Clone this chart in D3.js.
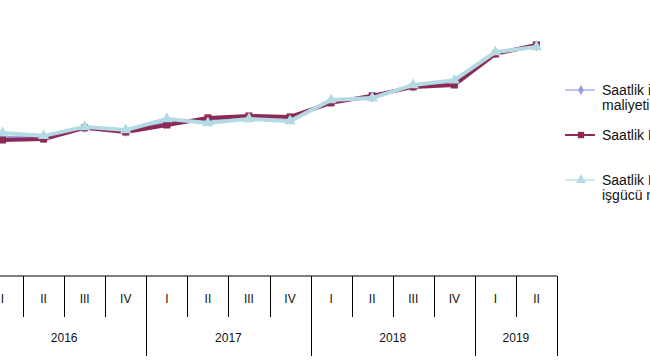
<!DOCTYPE html>
<meta charset="utf-8">
<body style="margin:0;background:#fff">
<script src="https://d3js.org/d3.v7.min.js"></script>
<div id="my_dataviz"></div>
<script>

// quarters and years on the x axis
var quarters = ["I","II","III","IV","I","II","III","IV","I","II","III","IV","I","II"];
var years = ["2016","2017","2018","2019"];
var yearSize = [4, 4, 4, 2];

// index values per quarter
var isgucu   = [143.3,143.2,146.4,145.2,147.9,148.9,149.6,149.2,154.6,156.0,159.3,160.3,169.7,171.9];
var kazanc   = [142.5,142.8,146.3,145.0,147.2,149.4,150.0,149.7,154.1,156.3,159.1,159.7,169.4,172.2];
var kazancDisi = [144.7,143.8,146.6,145.6,149.1,147.8,149.1,148.4,155.0,155.6,159.7,161.2,170.0,171.6];

var seriesNames = [["Saatlik işgücü", "maliyeti"], ["Saatlik Kazanç"], ["Saatlik Kazanç dışı", "işgücü maliyeti"]];

var width = 650, height = 360;
var axisY = 276;

var svg = d3.select("#my_dataviz")
  .append("svg")
    .attr("width", width)
    .attr("height", height)
    .style("font-family", "Arial, 'Liberation Sans', sans-serif");

var keys = quarters.map(function(q, i) { return i; });

var x = d3.scaleBand()
  .domain(keys)
  .range([-18, 557]);

var y = d3.scaleLinear()
  .domain([100, 180])
  .range([axisY, 20]);

// category axis: horizontal line, quarter separators, year separators
svg.append("line")
  .attr("x1", x.range()[0]).attr("x2", x.range()[1])
  .attr("y1", axisY).attr("y2", axisY)
  .attr("stroke", "#000").attr("stroke-width", 1);

var yearStart = [];
var acc = 0;
yearSize.forEach(function(n) { yearStart.push(acc); acc += n; });

keys.forEach(function(k) {
  var isYear = yearStart.indexOf(k + 1) >= 0 || k == keys.length - 1;
  svg.append("line")
    .attr("x1", Math.round(x(k) + x.bandwidth()) + 0.5)
    .attr("x2", Math.round(x(k) + x.bandwidth()) + 0.5)
    .attr("y1", axisY)
    .attr("y2", isYear ? 356 : 317)
    .attr("stroke", "#000").attr("stroke-width", 1);
});

svg.selectAll(".qlab")
  .data(quarters)
  .enter()
  .append("text")
    .attr("x", function(d, i) { return x(i) + x.bandwidth() / 2; })
    .attr("y", 303)
    .attr("text-anchor", "middle")
    .style("font-size", "12px")
    .attr("fill", "#111")
    .text(function(d) { return d; });

svg.selectAll(".ylab")
  .data(years)
  .enter()
  .append("text")
    .attr("x", function(d, i) {
      return (x(yearStart[i]) + x(yearStart[i] + yearSize[i] - 1) + x.bandwidth()) / 2;
    })
    .attr("y", 342)
    .attr("text-anchor", "middle")
    .style("font-size", "12px")
    .attr("fill", "#111")
    .text(function(d) { return d; });

// series
var series = [
  {values: isgucu, color: "#9a9ae6", marker: "diamond", width: 3},
  {values: kazanc, color: "#8b2a56", marker: "square", width: 4},
  {values: kazancDisi, color: "#b4dbe4", marker: "triangle", width: 4}
];

var symbolType = {diamond: d3.symbolDiamond, square: d3.symbolSquare, triangle: d3.symbolTriangle};
var symbolSize = {diamond: 36, square: 50, triangle: 55};

var line = d3.line()
  .x(function(d, i) { return x(i) + x.bandwidth() / 2; })
  .y(function(d) { return y(d); });

series.forEach(function(s) {
  svg.append("path")
    .datum(s.values)
    .attr("fill", "none")
    .attr("stroke", s.color)
    .attr("stroke-width", s.width)
    .attr("stroke-linejoin", "round")
    .attr("d", line);
  svg.selectAll(null)
    .data(s.values)
    .enter()
    .append("path")
      .attr("transform", function(d, i) {
        return "translate(" + (x(i) + x.bandwidth() / 2) + "," + y(d) + ")";
      })
      .attr("d", d3.symbol().type(symbolType[s.marker]).size(symbolSize[s.marker]))
      .attr("fill", s.color);
});

// legend
var legendY = [90, 135, 180];
series.forEach(function(s, i) {
  var g = svg.append("g").attr("transform", "translate(565," + legendY[i] + ")");
  g.append("line")
    .attr("x1", 0).attr("x2", 30)
    .attr("stroke", s.color)
    .attr("stroke-width", i == 1 ? 2 : 1.2);
  g.append("path")
    .attr("transform", "translate(16,0)")
    .attr("d", d3.symbol().type(symbolType[s.marker]).size(symbolSize[s.marker] * 0.8))
    .attr("fill", s.color);
  seriesNames[i].forEach(function(t, j) {
    g.append("text")
      .attr("x", 37)
      .attr("y", j * 15 + 5)
      .style("font-size", "14px")
      .attr("fill", "#111")
      .text(t);
  });
});

</script>
</body>
